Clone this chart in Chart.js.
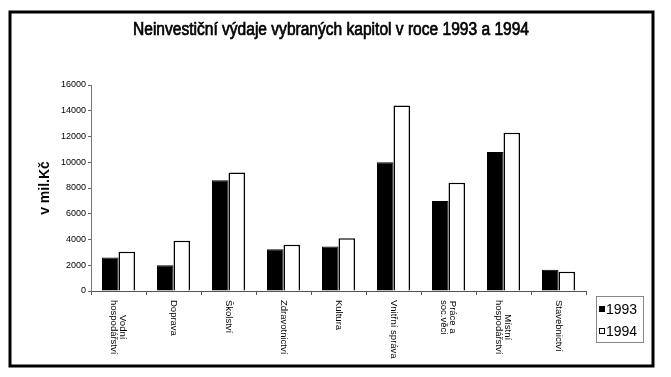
<!DOCTYPE html>
<html>
<head>
<meta charset="utf-8">
<script src="https://cdn.jsdelivr.net/npm/chart.js@4.4.0/dist/chart.umd.min.js"></script>
<style>
  html, body { margin: 0; padding: 0; background: #fff; }
  #wrap { position: relative; width: 671px; height: 377px; }
</style>
</head>
<body>
<div id="wrap"><canvas id="expChart" width="671" height="377"></canvas></div>
<script>
// Chart data (mil. Kč)
const categories = [
  ["Vodní", "hospodářství"],
  "Doprava",
  "Školství",
  "Zdravotnictví",
  "Kultura",
  "Vnitřní správa",
  ["Práce a", "soc.věci"],
  ["Místní", "hospodářství"],
  "Stavebnictví"
];
const values1993 = [2600, 2000, 8600, 3250, 3450, 10000, 7000, 10800, 1650];
const values1994 = [3050, 3900, 9200, 3600, 4100, 14400, 8400, 12300, 1500];
const seriesNames = ["1993", "1994"];
const yTicks = [0, 2000, 4000, 6000, 8000, 10000, 12000, 14000, 16000];
const chartTitle = "Neinvestiční výdaje vybraných kapitol v roce 1993 a 1994";

const FONT = "'Liberation Sans', Arial, sans-serif";

// frame round the whole picture + title (narrow and heavy, like the scan)
const framePlugin = {
  id: "frame",
  beforeDraw(chart) {
    const c = chart.ctx;
    c.save();
    c.fillStyle = "#fff";
    c.fillRect(0, 0, chart.width, chart.height);
    c.strokeStyle = "#000";
    c.lineWidth = 3;
    c.strokeRect(10, 12, 643, 354);

    c.font = "17.5px " + FONT;
    c.fillStyle = "#000";
    c.textBaseline = "alphabetic";
    c.textAlign = "left";
    const w = c.measureText(chartTitle).width;
    const target = 396;
    c.translate(133, 35);
    c.scale(target / w, 1);
    c.fillText(chartTitle, 0, 0);
    c.lineWidth = 0.7;
    c.strokeText(chartTitle, 0, 0);
    c.restore();
  }
};

// x labels read top-to-bottom (rotated clockwise)
const xLabelPlugin = {
  id: "xLabels",
  afterDraw(chart) {
    const c = chart.ctx;
    const xs = chart.scales.x;
    const top = xs.top + 9;
    const lh = 9;
    c.save();
    c.font = "9.5px " + FONT;
    c.fillStyle = "#000";
    c.textBaseline = "middle";
    c.textAlign = "left";
    categories.forEach((lab, i) => {
      const lines = Array.isArray(lab) ? lab : [lab];
      const widths = lines.map(l => c.measureText(l).width);
      const maxW = Math.max(...widths);
      const x = xs.getPixelForTick(i);
      c.save();
      c.translate(x, top);
      c.rotate(Math.PI / 2);
      lines.forEach((l, k) => {
        const off = (k - (lines.length - 1) / 2) * lh;
        c.fillText(l, (maxW - widths[k]) / 2, off);
      });
      c.restore();
    });
    c.restore();
  }
};

// boxed legend at lower right
const legendPlugin = {
  id: "boxLegend",
  afterDraw(chart) {
    const c = chart.ctx;
    c.save();
    c.strokeStyle = "#888";
    c.lineWidth = 1;
    c.strokeRect(596.5, 296.5, 47, 46);
    c.font = "14px " + FONT;
    c.textBaseline = "middle";
    c.textAlign = "left";
    chart.data.datasets.forEach((ds, i) => {
      const cy = 309 + i * 22;
      c.fillStyle = ds.backgroundColor;
      c.fillRect(599, cy - 3, 6, 6);
      c.strokeStyle = "#000";
      c.strokeRect(599.5, cy - 2.5, 5, 5);
      c.fillStyle = "#000";
      c.fillText(ds.label, 606, cy + 1);
    });
    c.restore();
  }
};

const ctx = document.getElementById("expChart");
new Chart(ctx.getContext("2d"), {
  type: "bar",
  data: {
    labels: categories,
    datasets: [
      {
        label: seriesNames[0],
        data: values1993,
        backgroundColor: "#000000",
        borderColor: "#000",
        borderWidth: 1,
        categoryPercentage: 0.6,
        barPercentage: 1.0
      },
      {
        label: seriesNames[1],
        data: values1994,
        backgroundColor: "#ffffff",
        borderColor: "#000",
        borderWidth: 1.5,
        categoryPercentage: 0.6,
        barPercentage: 1.0
      }
    ]
  },
  options: {
    responsive: false,
    animation: false,
    layout: { padding: { left: 33, right: 85, top: 85, bottom: 0 } },
    plugins: {
      legend: { display: false },
      tooltip: { enabled: false },
      title: { display: false }
    },
    scales: {
      x: {
        grid: { drawOnChartArea: false, tickLength: 4, color: "#555", offset: true },
        border: { color: "#555", width: 1 },
        ticks: { display: false },
        afterFit: s => { s.height = 86; }
      },
      y: {
        min: 0,
        max: 16000,
        afterBuildTicks: s => { s.ticks = yTicks.map(v => ({ value: v })); },
        grid: { drawOnChartArea: false, tickLength: 3, color: "#666" },
        border: { color: "#777", width: 1, dash: [2, 2] },
        ticks: {
          color: "#000",
          font: { family: FONT, size: 9 },
          padding: 2,
          callback: v => String(v)
        },
        title: {
          display: true,
          text: "v mil.Kč",
          color: "#000",
          font: { family: FONT, size: 14, weight: "bold" }
        },
        afterFit: s => { s.width = 58; }
      }
    }
  },
  plugins: [framePlugin, xLabelPlugin, legendPlugin]
});
</script>
</body>
</html>
